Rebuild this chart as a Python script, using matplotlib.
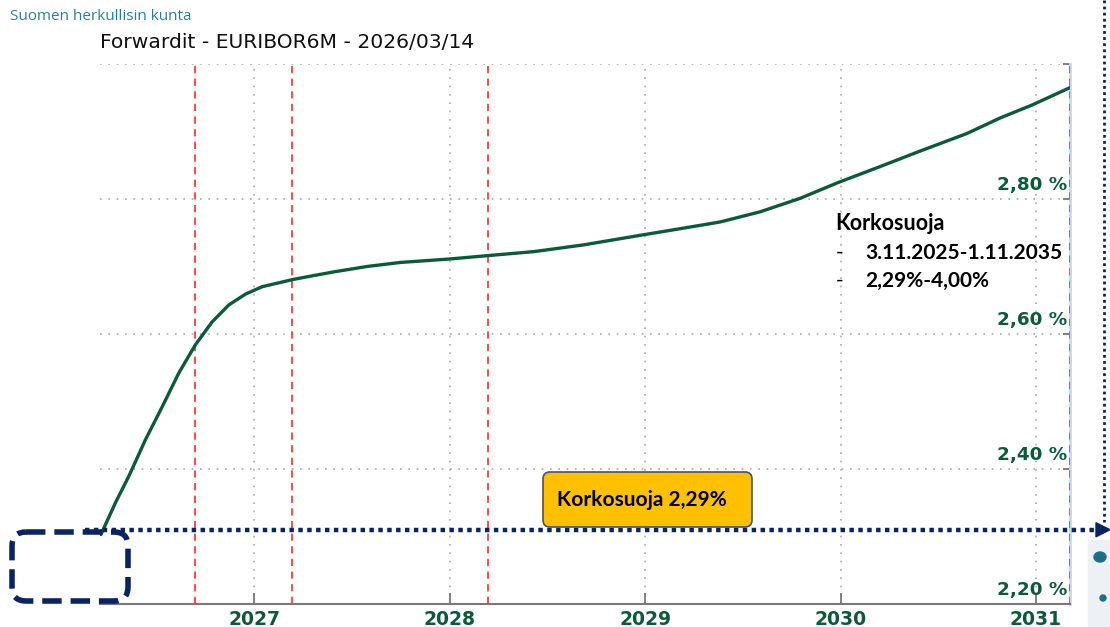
import matplotlib
matplotlib.use("Agg")
import matplotlib.pyplot as plt
from matplotlib.patches import FancyBboxPatch, Ellipse, Polygon, Rectangle

# ---- data ----
years = [2026.215, 2026.289, 2026.357, 2026.442, 2026.528, 2026.613, 2026.698,
         2026.784, 2026.869, 2026.954, 2027.039, 2027.201, 2027.312, 2027.406,
         2027.576, 2027.747, 2027.994, 2028.190, 2028.429, 2028.684, 2028.991,
         2029.179, 2029.384, 2029.588, 2029.793, 2029.984, 2030.202, 2030.398,
         2030.646, 2030.816, 2030.978, 2031.174]
forward = [2.303, 2.350, 2.389, 2.443, 2.492, 2.542, 2.584,
           2.618, 2.643, 2.659, 2.670, 2.681, 2.687, 2.692,
           2.700, 2.706, 2.711, 2.716, 2.722, 2.732, 2.747,
           2.756, 2.766, 2.781, 2.801, 2.824, 2.848, 2.870,
           2.897, 2.920, 2.939, 2.965]
red_lines = [2026.698, 2027.194, 2028.194, 2031.174]
x_ticks = [2027, 2028, 2029, 2030, 2031]
x_labels = ["2027", "2028", "2029", "2030", "2031"]
y_ticks = [2.20, 2.40, 2.60, 2.80, 3.00]
y_labels = ["2,20 %", "2,40 %", "2,60 %", "2,80 %", ""]
cap_level = 2.310

W, H = 1110, 627
fig = plt.figure(figsize=(W / 100, H / 100), dpi=100)
fig.patch.set_facecolor("white")

x0, x1 = 2026.21, 2031.174
ax = fig.add_axes([100 / W, 1 - 604 / H, (1070 - 100) / W, (604 - 64) / H])
ax.set_xlim(x0, x1)
ax.set_ylim(2.20, 3.00)

green = "#0B5B3A"
ax.plot(years, forward, color=green, lw=2.4, zorder=4, solid_capstyle="round",
        solid_joinstyle="round")

for xv in red_lines:
    ax.axvline(xv, color="#FF3B3B", lw=1.3, ls=(0, (4, 3)), zorder=3)

ax.set_xticks(x_ticks)
ax.set_xticklabels(x_labels, fontsize=13.5, fontweight="bold", color=green)
ax.set_yticks(y_ticks)
ax.set_yticklabels([])
ax.yaxis.tick_right()
ax.tick_params(axis="x", direction="in", length=8, width=1.3, color="#777777", pad=4)
ax.tick_params(axis="y", direction="in", length=5, width=1.3, color="#777777")
ax.grid(True, color="#AAAAAA", lw=1.2, ls=(0, (1, 4)))
for s in ["left", "top"]:
    ax.spines[s].set_visible(False)
ax.spines["right"].set_color("#C9D6EC")
ax.spines["right"].set_linewidth(2)
ax.spines["bottom"].set_color("#777777")
ax.spines["bottom"].set_linewidth(1.5)

for v, lab in zip(y_ticks, y_labels):
    if lab:
        ax.text(x1 - 0.012, v + 0.008, lab, ha="right", va="bottom", fontsize=13.2,
                fontweight="bold", color=green, zorder=5)

# ---- overlay in pixel coordinates ----
ov = fig.add_axes([0, 0, 1, 1])
ov.set_xlim(0, W)
ov.set_ylim(H, 0)
ov.axis("off")
ov.patch.set_alpha(0)

ov.text(10, 17, "Suomen herkullisin kunta", fontsize=11, color="#2E7D9A",
        family="Open Sans", va="center", ha="left")
ov.text(100, 43, "Forwardit - EURIBOR6M - 2026/03/14", fontsize=14.6, color="#111111",
        va="center", ha="left")

navy = "#0A2463"
# light panel at right
ov.add_patch(Rectangle((1088, 540), 30, 90, color="#EDF1F5", zorder=1))
ov.add_patch(Ellipse((1100, 557), 12, 10, color="#1D6E8A", zorder=2))
ov.add_patch(Ellipse((1103, 598), 6, 6, color="#1D6E8A", zorder=2))

# horizontal cap line (Korkosuoja level)
ycap_px = 604 - (cap_level - 2.20) / 0.80 * 540
ov.plot([85, 1098], [ycap_px, ycap_px], color=navy, lw=3.2, ls=(0, (1, 1)), zorder=6)
ov.add_patch(Polygon([[1096, ycap_px - 7], [1110, ycap_px], [1096, ycap_px + 7]],
                     closed=True, color=navy, zorder=6))
ov.plot([1104, 1104], [0, ycap_px - 8], color=navy, lw=2.0, ls=(0, (1, 1.2)), zorder=6)

# dashed rounded box
ov.add_patch(FancyBboxPatch((12, 532), 116, 69, boxstyle="round,pad=0,rounding_size=14",
                            fill=False, ec=navy, lw=4, ls=(0, (3.5, 1.6)), zorder=6))

# yellow label
ov.add_patch(FancyBboxPatch((543, 472), 209, 55, boxstyle="round,pad=0,rounding_size=7",
                            fc="#FFC000", ec="#44546A", lw=1.2, zorder=7))
ov.text(557, 500, "Korkosuoja 2,29%", fontsize=15, fontweight="bold", family="Lato",
        color="black", va="center", ha="left", zorder=8)

# annotation text
ov.text(835, 224, "Korkosuoja", fontsize=15.5, fontweight="bold", family="Lato",
        color="black", va="center", ha="left", zorder=8)
for yy, t in [(253, "3.11.2025-1.11.2035"), (281, "2,29%-4,00%")]:
    ov.text(836, yy, "-", fontsize=15, family="Lato", color="black",
            va="center", ha="left", zorder=8)
    ov.text(865, yy, t, fontsize=15, fontweight="bold", family="Lato",
            color="black", va="center", ha="left", zorder=8)

fig.savefig("out.png", dpi=100, facecolor="white")
